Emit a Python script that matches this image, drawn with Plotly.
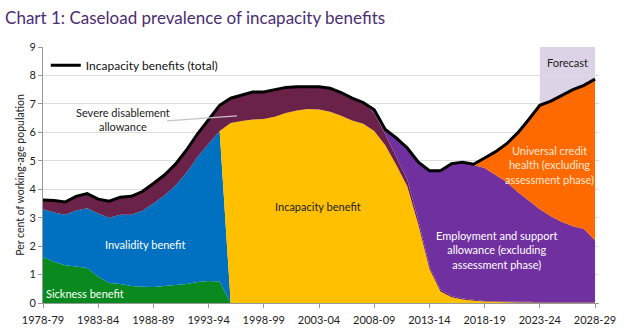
import numpy as np
import plotly.graph_objects as go

years = [f"{y}-{str(y+1)[-2:]}" for y in range(1978, 2029)]
tick_idx = list(range(0, 51, 5))
tick_labels = [years[i] for i in tick_idx]

sickness = [1.62,1.45,1.33,1.28,1.23,0.92,0.70,0.67,0.60,0.57,0.56,0.60,0.63,0.67,0.74,0.77,0.76] + [0]*34
invalidity = [1.68,1.73,1.77,1.97,2.10,2.23,2.30,2.43,2.50,2.67,2.94,3.18,3.50,3.91,4.39,4.83,5.29] + [0]*34
incapacity = [0]*17 + [6.33,6.40,6.45,6.47,6.55,6.68,6.77,6.82,6.80,6.72,6.58,6.42,6.30,6.05,5.55,4.85,4.10,2.75,1.20,0.40,0.20,0.12,0.08,0.05,0.04,0.03,0.02,0.02,0.01,0.01,0.01,0.01,0.01,0.01]
sda = [0.32,0.42,0.45,0.50,0.52,0.50,0.58,0.62,0.65,0.68,0.70,0.72,0.75,0.80,0.82,0.85,0.90,
       0.87,0.90,0.97,0.95,0.95,0.90,0.83,0.78,0.80,0.83,0.82,0.78,0.75,0.62,0.38,0.28,0.22,0.15,0.10,0.07,0.05,0.04,0.03] + [0.02]*11
esa = [0]*30 + [0.12,0.17,0.67,1.13,2.05,3.35,4.18,4.65,4.79,4.74,4.68,4.44,4.20,3.86,3.56,3.27,3.02,2.82,2.67,2.57,2.17]
uc = [0]*39 + [0.03,0.35,0.82,1.35,2.08,2.85,3.65,4.05,4.45,4.80,5.05,5.67]

series = [
    ("Sickness benefit", sickness, "#0A8A1E"),
    ("Invalidity benefit", invalidity, "#0070C0"),
    ("Incapacity benefit", incapacity, "#FFC000"),
    ("Severe disablement allowance", sda, "#6B2249"),
    ("Employment and support allowance", esa, "#7030A0"),
    ("Universal credit health", uc, "#FF6A00"),
]

x = list(range(len(years)))
total = np.sum([np.array(s[1]) for s in series], axis=0)

FONT = "Lato"
fig = go.Figure()
for name, vals, col in series:
    fig.add_trace(go.Scatter(x=x, y=vals, name=name, stackgroup="one", mode="none",
                             fillcolor=col, showlegend=False, hoverinfo="skip"))
fig.add_trace(go.Scatter(x=x, y=total, name="Incapacity benefits (total)", mode="lines",
                         line=dict(color="black", width=3), showlegend=True))

fig.add_shape(type="rect", xref="x", yref="y", x0=45, x1=50, y0=0, y1=9,
              fillcolor="#DCD4E6", line=dict(width=0), layer="below")
fig.add_shape(type="line", xref="x", yref="y", x0=11.23, y0=6.4, x1=17.57, y1=6.58,
              line=dict(color="#C9C0CC", width=1.2))

def ann(text, xx, yy, color, size=11):
    fig.add_annotation(x=xx, y=yy, xref="x", yref="y", text=text, showarrow=False,
                       font=dict(family=FONT, size=size, color=color), align="center")

ann("Severe disablement<br>allowance", 7.25, 6.45, "#222222")
ann("Invalidity benefit", 9.24, 2.07, "white")
ann("Sickness benefit", 3.8, 0.35, "white")
ann("Incapacity benefit", 24.9, 3.41, "#222222")
ann("Employment and support<br>allowance (excluding<br>assessment phase)", 41.1, 1.86, "white")
ann("Universal credit<br>health (excluding<br>assessment phase)", 45.9, 4.85, "#FFE6D5")
ann("Forecast", 47.55, 8.47, "#222222")

fig.update_layout(
    width=634, height=331,
    margin=dict(l=43, r=35, t=47, b=28),
    paper_bgcolor="white", plot_bgcolor="white",
    font=dict(family=FONT, color="#222222"),
    title=dict(text="Chart 1: Caseload prevalence of incapacity benefits",
               x=0.008, xanchor="left", xref="container",
               y=1 - 18/331, yanchor="middle", yref="container",
               font=dict(family=FONT, size=17, color="#4B2D73")),
    legend=dict(x=0.005, y=0.985, xanchor="left", yanchor="top",
                bgcolor="rgba(0,0,0,0)", font=dict(family=FONT, size=12, color="#111111")),
    xaxis=dict(range=[0, 50.36], tickvals=tick_idx, ticktext=tick_labels, automargin=False,
               showgrid=False, zeroline=False, showline=True, linecolor="#999999",
               ticks="outside", ticklen=4, tickcolor="#999999", ticklabelstandoff=3,
               tickfont=dict(family=FONT, size=11, color="#222222")),
    yaxis=dict(range=[0, 9], dtick=1, showgrid=True, gridcolor="#DDDDDD", gridwidth=1,
               automargin=False,
               zeroline=False, showline=True, linecolor="#999999",
               ticks="outside", ticklen=4, tickcolor="#999999",
               tickfont=dict(family=FONT, size=11, color="#222222"),
               title=dict(text="Per cent of working-age population",
                          font=dict(family=FONT, size=10.5, color="#222222"), standoff=2)),
)

fig.write_html("out.html")
